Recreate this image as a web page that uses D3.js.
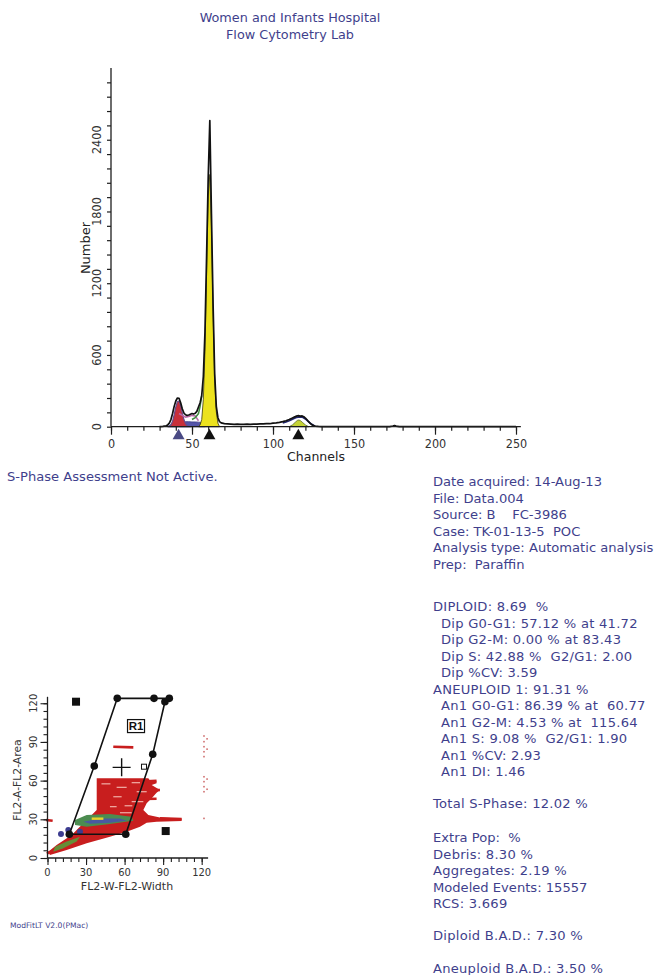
<!DOCTYPE html>
<html>
<head>
<meta charset="utf-8">
<script src="https://cdn.jsdelivr.net/npm/d3@7"></script>
<style>
  body { margin: 0; background: #fff; }
  svg { display: block; }
  text { white-space: pre; }
</style>
</head>
<body>
<svg id="report" width="656" height="975"></svg>
<script>
// ---------- report text ----------
const reportTitle = ["Women and Infants Hospital", "Flow Cytometry Lab"];
const sPhaseNote = "S-Phase Assessment Not Active.";
const acquisitionInfo = [
  "Date acquired: 14-Aug-13",
  "File: Data.004",
  "Source: B    FC-3986",
  "Case: TK-01-13-5  POC",
  "Analysis type: Automatic analysis",
  "Prep:  Paraffin"
];
const ploidyStats = [
  "DIPLOID: 8.69  %",
  "Dip G0-G1: 57.12 % at 41.72",
  "Dip G2-M: 0.00 % at 83.43",
  "Dip S: 42.88 %  G2/G1: 2.00",
  "Dip %CV: 3.59",
  "ANEUPLOID 1: 91.31 %",
  "An1 G0-G1: 86.39 % at  60.77",
  "An1 G2-M: 4.53 % at  115.64",
  "An1 S: 9.08 %  G2/G1: 1.90",
  "An1 %CV: 2.93",
  "An1 DI: 1.46"
];
const totalSPhase = ["Total S-Phase: 12.02 %"];
const modelStats = ["Extra Pop:  %", "Debris: 8.30 %", "Aggregates: 2.19 %", "Modeled Events: 15557", "RCS: 3.669"];
const diploidBAD = ["Diploid B.A.D.: 7.30 %"];
const aneuploidBAD = ["Aneuploid B.A.D.: 3.50 %"];
const softwareTag = "ModFitLT V2.0(PMac)";

// ---------- DNA histogram ----------
const channelLabels = [0, 50, 100, 150, 200, 250];
const countLabels = [0, 600, 1200, 1800, 2400];

// measured events per channel
const dataChannels = [30, 32, 34, 35, 36, 37, 38, 39, 40, 41, 42, 43, 44, 45, 46, 47, 48, 49, 50, 51,
  52, 53, 54, 55, 56, 57, 58, 59, 60, 61, 62, 63, 64, 65, 66, 67, 68, 70, 72, 74,
  76, 78, 80, 82, 84, 86, 88, 90, 92, 94, 96, 98, 100, 102, 104, 106, 108, 110, 111, 112,
  113, 114, 115, 116, 117, 118, 119, 120, 121, 122, 123, 124, 125, 126, 128, 130, 172, 174, 175, 176,
  178, 250];
const dataCounts = [0, 3, 8, 15, 30, 60, 110, 170, 215, 240, 238, 200, 150, 115, 100, 95, 98, 104, 110, 106,
  112, 128, 165, 200, 260, 420, 790, 1420, 2080, 2560, 1780, 1030, 440, 170, 75, 42, 32, 26, 24, 22,
  20, 22, 20, 19, 21, 20, 22, 21, 23, 24, 26, 25, 30, 32, 36, 42, 50, 60, 66, 72,
  80, 86, 90, 92, 88, 90, 84, 72, 58, 42, 28, 16, 9, 5, 2, 0, 0, 6, 10, 5,
  0, 0];

// fitted model components
const debrisChannels = [35, 36, 38, 40, 42, 44, 46, 48, 50, 52, 54, 56, 57, 58];
const debrisCounts = [0, 10, 25, 35, 38, 40, 42, 42, 40, 40, 38, 35, 20, 0];

const dipG1Channels = [36, 37, 38, 39, 40, 41, 42, 43, 44, 45, 46, 47, 48];
const dipG1Counts = [0, 15, 45, 100, 165, 210, 215, 175, 115, 60, 25, 8, 0];

const an1G1Channels = [54, 55, 56, 57, 58, 59, 60, 61, 62, 63, 64, 65, 66, 67];
const an1G1Counts = [0, 15, 60, 230, 630, 1290, 1930, 2110, 1670, 965, 405, 125, 30, 0];

const an1G2Channels = [110, 112, 114, 115, 116, 117, 118, 120, 122];
const an1G2Counts = [0, 15, 40, 52, 56, 50, 38, 15, 0];

const dipSChannels = [42, 44, 46, 48, 50, 52, 53, 54];
const dipSCounts = [110, 95, 80, 85, 95, 90, 70, 50];

const an1SChannels = [50, 52, 54, 55, 56];
const an1SCounts = [60, 75, 110, 170, 260];

const an1G2SumChannels = [106, 108, 110, 112, 114, 116, 118, 120, 122, 124, 126];
const an1G2SumCounts = [30, 40, 50, 62, 75, 82, 80, 65, 40, 20, 5];

// peak markers (channel, fill)
const peakMarkers = [41.72, 60.77, 115.64];
const peakMarkerFill = ["#4a4a84", "#111", "#111"];

// ---------- doublet discrimination scatter ----------
const scatterLabels = [0, 30, 60, 90, 120];

const gateR1 = [[17, 18.4], [36.4, 71.3], [54.3, 123.8], [82.9, 123.8], [94.8, 123.8],
  [91.4, 121.2], [81.9, 80.4], [60.9, 18.4]];
const gateHandles = [[22.2, 121.2], [92, 20.9]];
const gateCentre = [57.7, 70.3];
const gateAnchor = [75.1, 70.8];
const gateLabel = { name: "R1", at: [68.9, 102.3] };

// outline of the main event cloud
const cloudOutline = [[38.3, 61.8], [78.5, 61.8], [79.8, 59.9], [84.9, 59.2], [84.9, 57.9], [81.1, 56.6],
  [87.5, 52.7], [84.9, 50.6], [81.1, 46.3], [77.2, 42.4], [74.6, 37.2], [78.5, 33.3], [87.5, 31.5],
  [104.4, 30.7], [104.4, 28.7], [84.9, 28.2], [77.2, 27.4], [72, 24.3], [61.6, 20.4], [48.6, 16.5],
  [30.5, 11.4], [14.9, 6.2], [1.9, 2.3], [0.6, 4.9], [7.1, 10.1], [18.8, 17.8], [27.9, 26.9],
  [34.4, 33.3], [38.3, 37.2]];
const cloudCoreGreen = [[21.4, 29.5], [30.5, 33.3], [48.6, 34.1], [65.5, 32], [66.8, 28.9],
  [48.6, 26.4], [30.5, 24.3], [21.4, 25.6]];
const cloudCoreBlue = [[27.9, 28.2], [40.9, 30.7], [56.4, 30.7], [61.6, 28.9], [48.6, 27.4], [33.1, 26.6]];
const cloudLowGreen = [[5.8, 8.8], [14.9, 12.7], [25.3, 16.5], [22.7, 12.7], [12.3, 7.5], [4.5, 4.9]];
const cloudBlueSpots = [[16.2, 21.7], [25.3, 20.4], [10.5, 18.6]];
const cloudYellowStreak = [[34.4, 30.5], [43.5, 30.5]];
const redStreaks = [
  [[77.2, 59.4], [84.9, 59.9]],
  [[78.5, 52.7], [87.5, 52.7]],
  [[74.6, 45.7], [84.9, 46]],
  [[87.5, 30.7], [104.4, 30.2]],
  [[51.2, 86.3], [66.8, 85.8]],
  [[-1.2, 29.5], [4, 28.9]],
  [[-0.5, 3.5], [6, 6.5]]
];
const paleStreaks = [
  [[65.5, 58.4], [72, 58.4]],
  [[53.8, 54.8], [61.6, 54.8]],
  [[69.4, 51.4], [77.2, 51.4]],
  [[51.2, 47.5], [57.7, 47.5]],
  [[65.5, 43.7], [74.6, 43.7]],
  [[48.6, 39.8], [53.8, 39.8]],
  [[56.4, 35.1], [65.5, 35.1]],
  [[42, 57.5], [49, 57.5]],
  [[60, 40.5], [66, 40.5]]
];
const strayEvents = [[121.8, 94.6], [121.8, 90.2], [121.8, 86.3], [121.8, 82.4], [121.8, 78.6],
  [121.8, 63], [121.8, 59.2], [121.8, 55.3], [121.8, 51.4], [121.8, 30.7],
  [124.2, 92.4], [124.2, 84.4], [124.2, 61.2], [124.2, 53.3]];

// ---------- drawing ----------
const svg = d3.select("#report");
const ink = "#3f3f8c";
const axisInk = "#1e1e1e";
const sans = "'DejaVu Sans', Verdana, sans-serif";
const narrow = "'Liberation Sans Narrow', 'DejaVu Sans Condensed', sans-serif";

// header
svg.append("g").selectAll("text").data(reportTitle).join("text")
  .attr("x", 290).attr("y", (d, i) => 22 + i * 17)
  .attr("text-anchor", "middle")
  .attr("font-family", sans).attr("font-size", 12.8).attr("fill", ink)
  .text(d => d);

// histogram
const hx = d3.scaleLinear().domain([0, 250]).range([111, 516]);
const hy = d3.scaleLinear().domain([0, 3000]).range([426.7, 68]);
const hist = svg.append("g");

const zipPts = (xs, ys) => xs.map((c, i) => [c, ys[i]]);
const area = d3.area().x(d => hx(d[0])).y0(hy(0)).y1(d => hy(d[1]));
const line = d3.line().x(d => hx(d[0])).y(d => hy(d[1]));

hist.append("path").datum(zipPts(debrisChannels, debrisCounts))
  .attr("d", area).attr("fill", "#5454a8").attr("stroke", "#3a3a88").attr("stroke-width", 0.8);
hist.append("path").datum(zipPts(dipG1Channels, dipG1Counts))
  .attr("d", area).attr("fill", "#c8303a").attr("stroke", "#6a4a8a").attr("stroke-width", 1.2);
hist.append("path").datum(zipPts(an1G1Channels, an1G1Counts))
  .attr("d", area).attr("fill", "#ece21e").attr("stroke", "#3a3a10").attr("stroke-width", 0.8);
hist.append("path").datum(zipPts(an1G2Channels, an1G2Counts))
  .attr("d", area).attr("fill", "#c4d234").attr("stroke", "#5a6a20").attr("stroke-width", 0.8);
hist.append("path").datum(zipPts(dipSChannels, dipSCounts))
  .attr("d", line).attr("fill", "none").attr("stroke", "#b86aa8").attr("stroke-width", 1.6);
hist.append("path").datum(zipPts(an1SChannels, an1SCounts))
  .attr("d", line).attr("fill", "none").attr("stroke", "#3e8a3e").attr("stroke-width", 1.5);
hist.append("path").datum(zipPts(an1G2SumChannels, an1G2SumCounts))
  .attr("d", line).attr("fill", "none").attr("stroke", "#22266e").attr("stroke-width", 1.6);
hist.append("path").datum(zipPts(dataChannels, dataCounts))
  .attr("d", line).attr("fill", "none").attr("stroke", "#111").attr("stroke-width", 1.7)
  .attr("stroke-linejoin", "round");

// axes of the histogram
hist.append("line").attr("x1", hx(0)).attr("x2", hx(253)).attr("y1", hy(0)).attr("y2", hy(0))
  .attr("stroke", axisInk).attr("stroke-width", 1.3);
hist.append("line").attr("x1", hx(0)).attr("x2", hx(0)).attr("y1", hy(0)).attr("y2", hy(3000))
  .attr("stroke", axisInk).attr("stroke-width", 1.3);

const xAxisMinor = d3.axisBottom(hx).tickValues(d3.range(0, 251, 10)).tickSize(4).tickFormat("");
const xAxisMajor = d3.axisBottom(hx).tickValues(channelLabels).tickSize(8).tickFormat(d3.format("d"));
[xAxisMinor, xAxisMajor].forEach(ax => {
  const g = hist.append("g").attr("transform", `translate(0,${hy(0)})`).call(ax);
  g.select(".domain").remove();
  g.selectAll("line").attr("stroke", axisInk).attr("stroke-width", 1.2);
  g.selectAll("text").attr("font-family", narrow).attr("font-size", 12.5)
    .attr("fill", "#333").attr("y", 12);
});

const yAxisMinor = d3.axisLeft(hy).tickValues(d3.range(0, 2881, 120)).tickSize(4).tickFormat("");
const yg = hist.append("g").attr("transform", `translate(${hx(0)},0)`).call(yAxisMinor);
yg.select(".domain").remove();
yg.selectAll("line").attr("stroke", axisInk).attr("stroke-width", 1.2);
hist.append("g").selectAll("text").data(countLabels).join("text")
  .attr("transform", d => `translate(${hx(0) - 9},${hy(d)}) rotate(-90)`)
  .attr("text-anchor", "middle").attr("dy", "-0.05em")
  .attr("font-family", narrow).attr("font-size", 12.5).attr("fill", "#333")
  .text(d => d);

hist.append("text").attr("x", 316).attr("y", 461).attr("text-anchor", "middle")
  .attr("font-family", sans).attr("font-size", 12.5).attr("fill", "#222").text("Channels");
hist.append("text").attr("transform", `translate(90,248) rotate(-90)`).attr("text-anchor", "middle")
  .attr("font-family", sans).attr("font-size", 13).attr("fill", "#222").text("Number");

// peak position markers
const tri = d3.symbol().type(d3.symbolTriangle).size(62);
hist.append("g").selectAll("path").data(peakMarkers).join("path")
  .attr("transform", d => `translate(${hx(d)},${hy(0) + 9})`)
  .attr("d", tri).attr("fill", (d, i) => peakMarkerFill[i]);

// notes and statistics
svg.append("text").attr("x", 7).attr("y", 481)
  .attr("font-family", sans).attr("font-size", 13.1).attr("fill", ink).text(sPhaseNote);

const infoX = 433, lineGap = 16.5;
function textBlock(lines, top, indentRule) {
  svg.append("g").selectAll("text").data(lines).join("text")
    .attr("x", d => infoX + (indentRule && indentRule(d) ? 8 : 0))
    .attr("y", (d, i) => top + i * lineGap)
    .attr("font-family", sans).attr("font-size", 13.1).attr("fill", ink)
    .attr("letter-spacing", d => /\d\.\d/.test(d) ? 0.25 : 0)
    .text(d => d);
}
textBlock(acquisitionInfo, 486);
textBlock(ploidyStats, 611, d => /^(Dip|An1)/.test(d));
textBlock(totalSPhase, 808);
textBlock(modelStats, 842);
textBlock(diploidBAD, 940);
textBlock(aneuploidBAD, 973);

// scatter panel
const sx = d3.scaleLinear().domain([0, 125]).range([47.5, 208.1]);
const sy = d3.scaleLinear().domain([0, 125]).range([858, 696.8]);
const sc = svg.append("g");
const sLine = d3.line().x(d => sx(d[0])).y(d => sy(d[1]));
const sPoly = d3.line().x(d => sx(d[0])).y(d => sy(d[1])).curve(d3.curveLinearClosed);

sc.append("path").datum(cloudOutline).attr("d", sPoly).attr("fill", "#c81e1e");
sc.append("g").selectAll("path").data(redStreaks).join("path")
  .attr("d", sLine).attr("stroke", "#c81e1e").attr("stroke-width", 2.6).attr("fill", "none");
sc.append("g").selectAll("path").data(paleStreaks).join("path")
  .attr("d", sLine).attr("stroke", "#f2b0a8").attr("stroke-width", 1.2).attr("fill", "none");
sc.append("path").datum(cloudLowGreen).attr("d", sPoly).attr("fill", "#5a9a3a").attr("opacity", 0.9);
sc.append("path").datum(cloudCoreGreen).attr("d", sPoly).attr("fill", "#4c8c50");
sc.append("path").datum(cloudCoreBlue).attr("d", sPoly).attr("fill", "#4a5aa0");
sc.append("g").selectAll("circle").data(cloudBlueSpots).join("circle")
  .attr("cx", d => sx(d[0])).attr("cy", d => sy(d[1])).attr("r", 3).attr("fill", "#3c3c90");
sc.append("path").datum(cloudYellowStreak).attr("d", sLine)
  .attr("stroke", "#e8d22a").attr("stroke-width", 2.4);
sc.append("g").selectAll("rect").data(strayEvents).join("rect")
  .attr("x", d => sx(d[0]) - 0.8).attr("y", d => sy(d[1]) - 0.8)
  .attr("width", 1.6).attr("height", 1.6).attr("fill", "#d07070");

// scatter axes
sc.append("line").attr("x1", sx(0)).attr("x2", sx(125)).attr("y1", sy(0)).attr("y2", sy(0))
  .attr("stroke", axisInk).attr("stroke-width", 1.3);
sc.append("line").attr("x1", sx(0)).attr("x2", sx(0)).attr("y1", sy(0)).attr("y2", sy(125))
  .attr("stroke", axisInk).attr("stroke-width", 1.3);
const sTicks = d3.range(0, 121, 6);
[[d3.axisBottom(sx), `translate(0,${sy(0)})`], [d3.axisLeft(sy), `translate(${sx(0)},0)`]].forEach(([ax, tr]) => {
  [[sTicks, 4], [scatterLabels, 7]].forEach(([vals, len]) => {
    const g = sc.append("g").attr("transform", tr)
      .call(ax.tickValues(vals).tickSize(len).tickFormat(""));
    g.select(".domain").remove();
    g.selectAll("line").attr("stroke", axisInk).attr("stroke-width", 1.1);
  });
});
sc.append("g").selectAll("text").data(scatterLabels).join("text")
  .attr("x", d => sx(d)).attr("y", sy(0) + 18).attr("text-anchor", "middle")
  .attr("font-family", narrow).attr("font-size", 11).attr("fill", "#333").text(d => d);
sc.append("g").selectAll("text").data(scatterLabels).join("text")
  .attr("transform", d => `translate(${sx(0) - 11},${sy(d)}) rotate(-90)`)
  .attr("text-anchor", "middle")
  .attr("font-family", narrow).attr("font-size", 11).attr("fill", "#333").text(d => d);
sc.append("text").attr("x", 127).attr("y", 890).attr("text-anchor", "middle")
  .attr("font-family", sans).attr("font-size", 11).attr("fill", "#333").text("FL2-W-FL2-Width");
sc.append("text").attr("transform", "translate(21,780) rotate(-90)").attr("text-anchor", "middle")
  .attr("font-family", sans).attr("font-size", 10.8).attr("fill", "#333").text("FL2-A-FL2-Area");

// gate R1
sc.append("path").datum(gateR1).attr("d", sPoly).attr("fill", "none")
  .attr("stroke", "#111").attr("stroke-width", 1.6);
sc.append("g").selectAll("circle").data(gateR1).join("circle")
  .attr("cx", d => sx(d[0])).attr("cy", d => sy(d[1])).attr("r", 3.8).attr("fill", "#111");
sc.append("g").selectAll("rect").data(gateHandles).join("rect")
  .attr("x", d => sx(d[0]) - 4).attr("y", d => sy(d[1]) - 4)
  .attr("width", 8).attr("height", 8).attr("fill", "#111");
sc.append("path")
  .attr("d", `M${sx(gateCentre[0]) - 9},${sy(gateCentre[1])}h18M${sx(gateCentre[0])},${sy(gateCentre[1]) - 9}v18`)
  .attr("stroke", "#111").attr("stroke-width", 1.4);
sc.append("rect").attr("x", sx(gateAnchor[0]) - 2.5).attr("y", sy(gateAnchor[1]) - 2.5)
  .attr("width", 5).attr("height", 5).attr("fill", "#fff").attr("stroke", "#111").attr("stroke-width", 1);
const lbl = sc.append("g").attr("transform", `translate(${sx(gateLabel.at[0])},${sy(gateLabel.at[1])})`);
lbl.append("rect").attr("x", -8.5).attr("y", -6.5).attr("width", 17).attr("height", 13)
  .attr("fill", "#fff").attr("stroke", "#111").attr("stroke-width", 1.2);
lbl.append("text").attr("text-anchor", "middle").attr("y", 4.3)
  .attr("font-family", "'Liberation Sans', Arial, sans-serif").attr("font-weight", "bold")
  .attr("font-size", 11.5).attr("fill", "#111").text(gateLabel.name);

svg.append("text").attr("x", 10).attr("y", 928)
  .attr("font-family", sans).attr("font-size", 7.6).attr("fill", ink).text(softwareTag);
</script>
</body>
</html>
